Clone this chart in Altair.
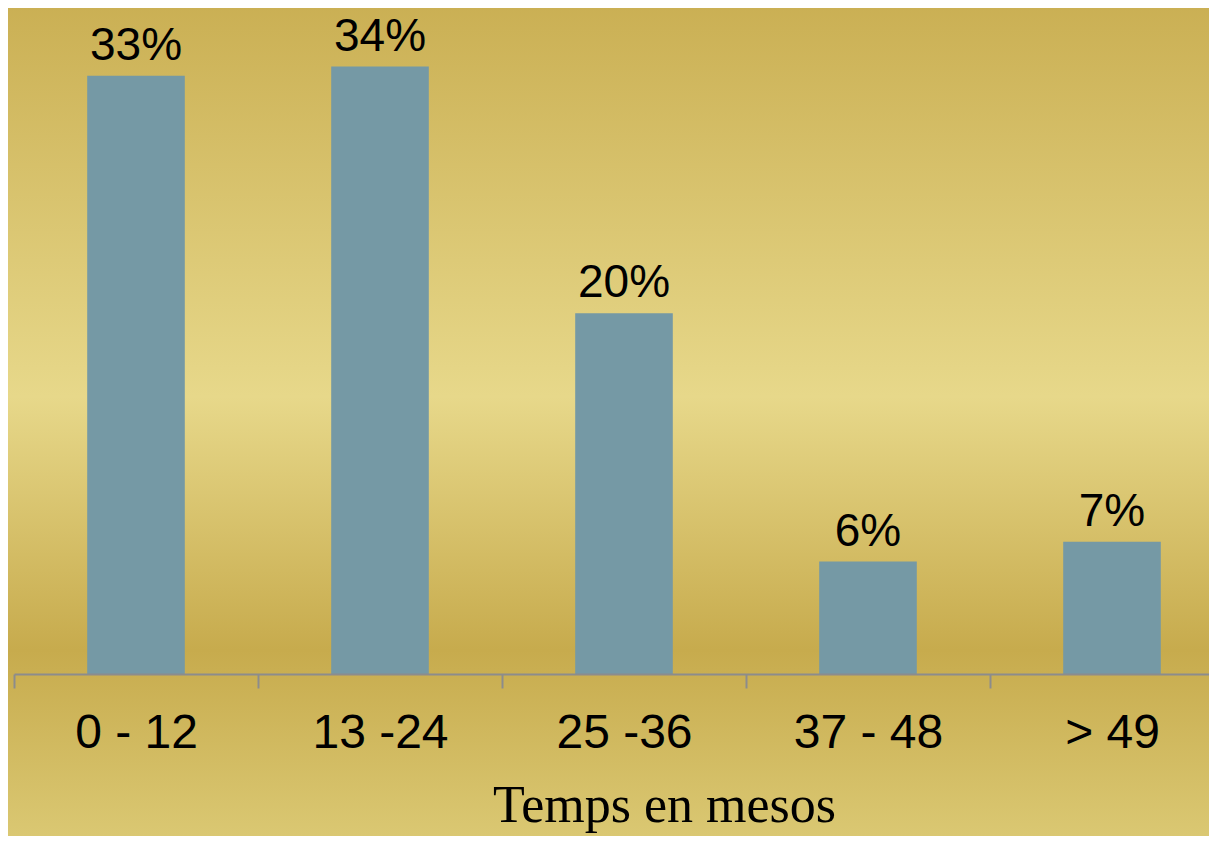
import altair as alt
import pandas as pd

categories = ["0 - 12", "13 -24", "25 -36", "37 - 48", "> 49"]
values = [33.0, 33.5, 19.9, 6.2, 7.3]
labels = ["33%", "34%", "20%", "6%", "7%"]

df = pd.DataFrame({"cat": categories, "val": values, "lab": labels})
bg_df = pd.DataFrame({"k": [0]})

gradient = {
    "gradient": "linear",
    "x1": 0, "y1": 0, "x2": 0, "y2": 1,
    "stops": [
        {"offset": 0.0, "color": "#caaf53"},
        {"offset": 0.47, "color": "#e7d88a"},
        {"offset": 0.77, "color": "#c7ab4d"},
        {"offset": 1.0, "color": "#dbc974"},
    ],
}

bg = alt.Chart(bg_df).mark_rect(fill=gradient, strokeWidth=0).encode(
    x=alt.value(-14), x2=alt.value(1230), y=alt.value(-8), y2=alt.value(836)
)

xenc = alt.X(
    "cat:N",
    sort=None,
    scale=alt.Scale(range=[0, 1220], paddingInner=0, paddingOuter=0),
    axis=alt.Axis(
        title="Temps en mesos",
        titleFont="Liberation Serif",
        titleFontSize=52,
        titleFontWeight="normal",
        titleColor="black",
        titleX=650,
        titleY=147,
        titleAlign="center",
        titleBaseline="alphabetic",
        labelFont="Liberation Sans",
        labelFontSize=48,
        labelColor="black",
        labelAngle=0,
        labelBaseline="alphabetic",
        labelPadding=59,
        labelOverlap=False,
        labelFlush=False,
        domainColor="#8c8c8c",
        domainWidth=2,
        tickColor="#8c8c8c",
        tickWidth=2,
        tickSize=14,
        tickBand="extent",
        grid=False,
        zindex=1,
    ),
)
yenc = alt.Y("val:Q", scale=alt.Scale(domain=[0, 36.73], nice=False), axis=None)

bars = alt.Chart(df).mark_bar(color="#7599a5", width={"band": 0.4}).encode(x=xenc, y=yenc)
text = alt.Chart(df).mark_text(
    font="Liberation Sans", fontSize=46, color="black", baseline="alphabetic", dy=-16
).encode(x=alt.X("cat:N", sort=None), y=yenc, text="lab:N")

chart = (
    alt.layer(bg, bars, text)
    .properties(
        width=1195,
        height=666,
        autosize=alt.AutoSizeParams(type="none"),
        padding={"left": 6, "top": 0, "right": 0, "bottom": 162},
    )
    .configure_view(stroke=None)
    .configure(background="#d5bf65")
)

chart.save("out.html", embed_options={"renderer": "svg", "actions": False})
